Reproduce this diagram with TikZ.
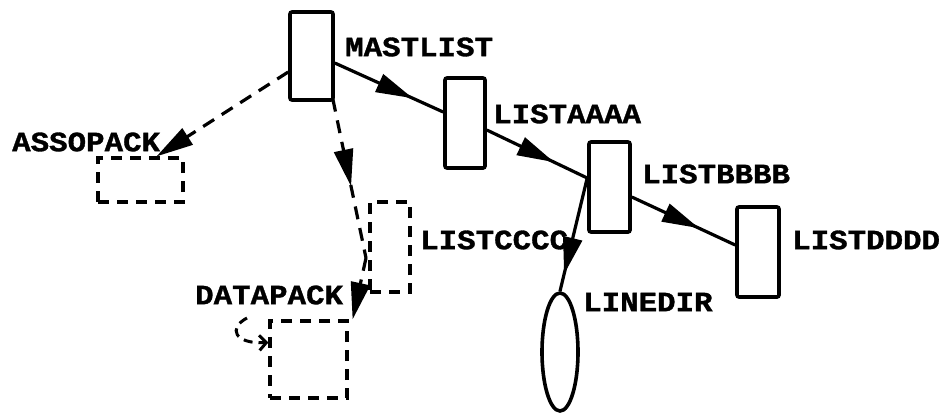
\documentclass[tikz,border=0pt]{standalone}
\usepackage{fontspec}
\newfontfamily\typew[FakeStretch=1.1,FakeBold=1.2]{Liberation Mono}
\usetikzlibrary{arrows.meta,decorations.markings,shapes.geometric}
\tikzset{
  lbl/.style={inner sep=0pt,anchor=west,font=\typew\bfseries\fontsize{28}{30}\selectfont},
  solidbox/.style={draw,line width=3.6pt,rounded corners=2pt,inner sep=0pt},
  dashbox/.style={draw,line width=3.2pt,dash pattern=on 11pt off 8pt,inner sep=0pt},
  conn/.style={line width=3.2pt},
  dconn/.style={line width=3.2pt,dash pattern=on 13pt off 9pt},
  tri/.tip={Triangle[length=37pt,width=19pt]},
  midarrow/.style={postaction={decorate},decoration={markings,mark=at position #1 with {\arrow{tri}}}}
}
\begin{document}
\begin{tikzpicture}[x=1pt,y=-1pt]
\useasboundingbox (0,0) rectangle (939,416);
% boxes
\node[solidbox,minimum width=43pt,minimum height=88pt] (mast) at (311.5,56) {};
\node[solidbox,minimum width=40pt,minimum height=90pt] (lista) at (465,123) {};
\node[solidbox,minimum width=41pt,minimum height=90pt] (listb) at (609.5,187) {};
\node[solidbox,minimum width=42pt,minimum height=90pt] (listd) at (758,252) {};
\node[dashbox,minimum width=85pt,minimum height=44pt] (asso) at (140.5,180) {};
\node[dashbox,minimum width=40pt,minimum height=90pt] (listc) at (390,247) {};
\node[dashbox,minimum width=77pt,minimum height=77pt] (data) at (308.5,359.5) {};
\node[draw,ellipse,line width=3.6pt,minimum width=36pt,minimum height=118pt,inner sep=0pt] (linedir) at (560,352) {};
% labels
\node[lbl] (tmast) at (345,47) {MASTLIST};
\node[lbl] (tlista) at (493,114) {LISTAAAA};
\node[lbl] (tlistb) at (642,174) {LISTBBBB};
\node[lbl] (tlistd) at (792,240) {LISTDDDD};
\node[lbl] (tasso) at (12,142) {ASSOPACK};
\node[lbl] (tlistc) at (420,240) {LISTCCCC};
\node[lbl] (tdata) at (195,295) {DATAPACK};
\node[lbl] (tlinedir) at (583,302) {LINEDIR};
% solid connectors
\draw[conn,midarrow=0.72] ([yshift=-7pt]mast.east) -- ([yshift=11pt]lista.west);
\draw[conn,midarrow=0.67] ([yshift=-7pt]lista.east) -- ([yshift=9pt]listb.west);
\draw[conn,midarrow=0.65] ([yshift=-10pt]listb.east) -- ([yshift=7pt]listd.west);
\draw[conn,midarrow=0.85] ([yshift=9pt]listb.west) -- (linedir.north);
% dashed connectors
\draw[dconn,-{tri}] ([yshift=-16pt]mast.west) -- ([xshift=16pt]asso.north);
\coordinate (bend) at (366,258);
\draw[dconn,midarrow=0.55] ([xshift=-2pt,yshift=3pt]mast.south east) -- (bend);
\draw[dconn,-{tri}] (bend) -- ([xshift=4pt]data.north east);
\coordinate (curl) at (247,318);
\draw[line width=3pt,dash pattern=on 9pt off 6pt,-{Straight Barb[length=7pt,width=15pt]}] (curl) .. controls (228,328) and (234,344) .. ([yshift=17pt]data.west);
\end{tikzpicture}
\end{document}
